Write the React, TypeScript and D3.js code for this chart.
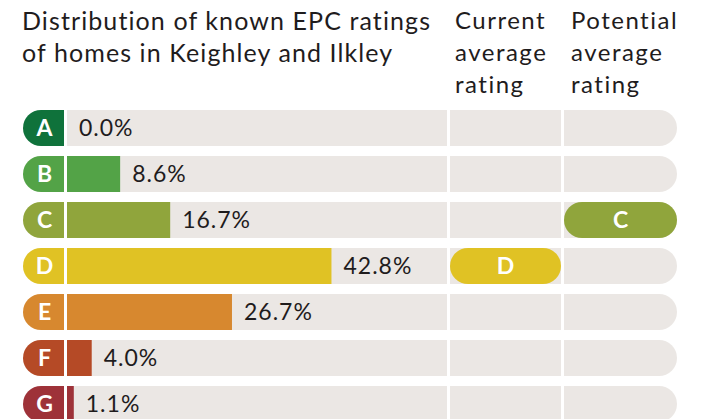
import React from "react";
import * as d3 from "d3";

const ratings = ["A", "B", "C", "D", "E", "F", "G"];
const shares = [0.0, 8.6, 16.7, 42.8, 26.7, 4.0, 1.1];
const ratingColors = ["#0f723b", "#53a347", "#90a53c", "#e0c224", "#d7882f", "#b54a26", "#9e3239"];
const currentRating = "D";
const potentialRating = "C";
const titleLines = ["Distribution of known EPC ratings", "of homes in Keighley and Ilkley"];
const currentHeader = ["Current", "average", "rating"];
const potentialHeader = ["Potential", "average", "rating"];

const W = 702;
const H = 419;
const FONT = "Lato, 'Open Sans', sans-serif";

export default function App() {
  const rowH = 36;
  const y = d3.scalePoint<string>().domain(ratings).range([110, 110 + 46 * 6]);
  const x = d3.scaleLinear().domain([0, 61.5]).range([67, 447]);
  const col2 = [450, 561];
  const col3 = [564, 677];
  const badgeX0 = 23;
  const badgeX1 = 64;
  const rad = 18;
  const bgFill = "#ebe7e4";
  const ink = "#1f1c1d";

  const leftRounded = (x0: number, x1: number, y0: number, h: number, r: number) =>
    `M${x0 + r},${y0}H${x1}V${y0 + h}H${x0 + r}A${r},${h / 2} 0 0 1 ${x0 + r},${y0}Z`;
  const rightRounded = (x0: number, x1: number, y0: number, h: number, r: number) =>
    `M${x0},${y0}H${x1 - r}A${r},${h / 2} 0 0 1 ${x1 - r},${y0 + h}H${x0}Z`;

  return (
    <svg width={W} height={H} style={{ position: "absolute", left: 0, top: 0, background: "#fff" }} fontFamily={FONT}>
      <g fill={ink} fontSize={25} letterSpacing={1.1}>
        {titleLines.map((t, i) => (
          <text key={t} x={22} y={30 + i * 32}>{t}</text>
        ))}
      </g>
      <g fill={ink} fontSize={24} letterSpacing={1.5}>
        {currentHeader.map((t, i) => (
          <text key={"c" + i} x={455} y={28.5 + i * 32}>{t}</text>
        ))}
        {potentialHeader.map((t, i) => (
          <text key={"p" + i} x={571} y={28.5 + i * 32}>{t}</text>
        ))}
      </g>
      {ratings.map((r, i) => {
        const y0 = y(r) as number;
        const cy = y0 + rowH / 2;
        const v = shares[i];
        return (
          <g key={r}>
            <path d={leftRounded(badgeX0, badgeX1, y0, rowH, rad)} fill={ratingColors[i]} />
            <text x={(badgeX0 + badgeX1) / 2 + 1} y={cy} dy="0.36em" textAnchor="middle" fill="#fff" fontWeight={700} fontSize={23}>
              {r}
            </text>
            <rect x={x(0)} y={y0} width={x(61.5) - x(0)} height={rowH} fill={bgFill} />
            <rect x={col2[0]} y={y0} width={col2[1] - col2[0]} height={rowH} fill={bgFill} />
            <path d={rightRounded(col3[0], col3[1], y0, rowH, rad)} fill={bgFill} />
            <rect x={x(0)} y={y0} width={x(v) - x(0)} height={rowH} fill={ratingColors[i]} />
            <text x={x(v) + 12} y={cy} dy="0.36em" fill={ink} fontSize={23} letterSpacing={1.0}>
              {v.toFixed(1) + "%"}
            </text>
            {r === currentRating && (
              <g>
                <rect x={col2[0]} y={y0} width={col2[1] - col2[0]} height={rowH} rx={rad} ry={rowH / 2} fill={ratingColors[i]} />
                <text x={(col2[0] + col2[1]) / 2} y={cy} dy="0.36em" textAnchor="middle" fill="#fff" fontWeight={700} fontSize={23}>
                  {r}
                </text>
              </g>
            )}
            {r === potentialRating && (
              <g>
                <rect x={col3[0]} y={y0} width={col3[1] - col3[0]} height={rowH} rx={rad} ry={rowH / 2} fill={ratingColors[i]} />
                <text x={(col3[0] + col3[1]) / 2} y={cy} dy="0.36em" textAnchor="middle" fill="#fff" fontWeight={700} fontSize={23}>
                  {r}
                </text>
              </g>
            )}
          </g>
        );
      })}
    </svg>
  );
}
